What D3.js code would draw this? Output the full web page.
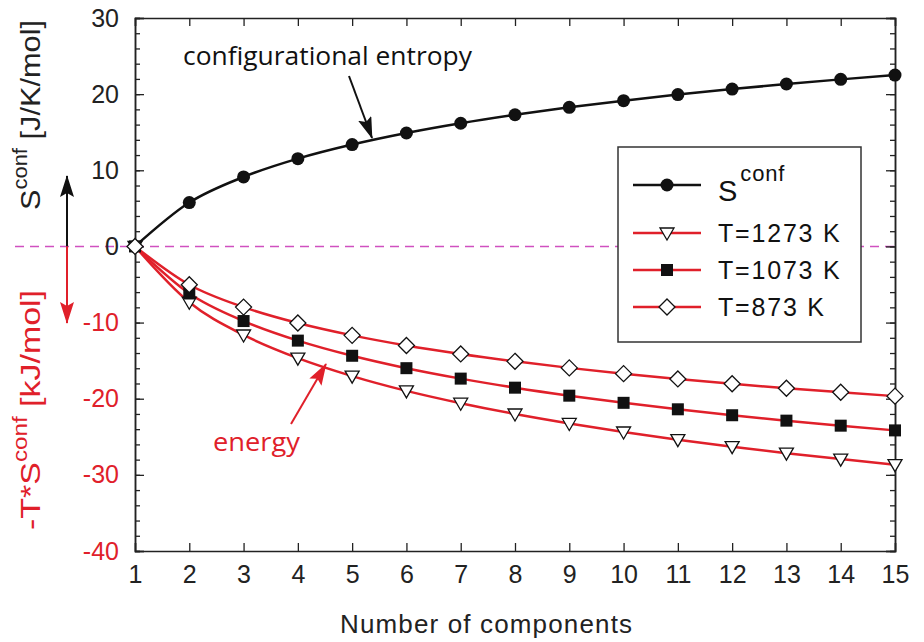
<!DOCTYPE html>
<html><head><meta charset="utf-8">
<script src="https://cdn.jsdelivr.net/npm/d3@7"></script>
<style>body{margin:0;background:#fff}svg{display:block}</style>
</head><body>
<script>
const components = [1,2,3,4,5,6,7,8,9,10,11,12,13,14,15];
const sConf = [0,5.76,9.13,11.53,13.38,14.90,16.18,17.29,18.27,19.14,19.94,20.66,21.33,21.94,22.51];
const t1273 = [0,-7.33,-11.63,-14.67,-17.03,-18.97,-20.59,-22.01,-23.25,-24.37,-25.38,-26.30,-27.15,-27.93,-28.66];
const t1073 = [0,-6.18,-9.80,-12.37,-14.36,-15.99,-17.36,-18.55,-19.60,-20.54,-21.39,-22.17,-22.88,-23.54,-24.16];
const t873  = [0,-5.03,-7.97,-10.06,-11.68,-13.01,-14.12,-15.09,-15.95,-16.71,-17.40,-18.04,-18.62,-19.15,-19.66];
const yTicks = [30,20,10,0,-10,-20,-30,-40];
const legendLabels = ["conf","T=1273 K","T=1073 K","T=873 K"];

const W=924,H=642;
const red="#e0202a";
const svg=d3.select("body").append("svg").attr("width",W).attr("height",H);
const L=135,R=895,T=18,B=551;
const x=d3.scaleLinear().domain([1,15]).range([L,R]);
const y=d3.scaleLinear().domain([-40,30]).range([B,T]);
const font="'Liberation Sans', Arial, sans-serif";
const afont="'Open Sans', 'DejaVu Sans', sans-serif";
const fmt=d=>String(d);

// zero dashed line
svg.append("line").attr("x1",15).attr("x2",R).attr("y1",y(0)).attr("y2",y(0))
  .attr("stroke","#d050c0").attr("stroke-width",1.5).attr("stroke-dasharray","9,6");

// axes with inner ticks
const gB=svg.append("g").attr("transform",`translate(0,${B})`)
  .call(d3.axisBottom(x).tickValues(components).tickSize(-8).tickPadding(14).tickFormat(fmt));
const gT=svg.append("g").attr("transform",`translate(0,${T})`)
  .call(d3.axisTop(x).tickValues(components).tickSize(-8).tickFormat(""));
const minor=d3.range(-40,31,2);
const gL=svg.append("g").attr("transform",`translate(${L},0)`)
  .call(d3.axisLeft(y).tickValues(minor).tickSize(-5).tickFormat(""));
const gL2=svg.append("g").attr("transform",`translate(${L},0)`)
  .call(d3.axisLeft(y).tickValues(yTicks).tickSize(-9).tickPadding(16).tickFormat(fmt));
const gR=svg.append("g").attr("transform",`translate(${R},0)`)
  .call(d3.axisRight(y).tickValues(minor).tickSize(-5).tickFormat(""));
const gR2=svg.append("g").attr("transform",`translate(${R},0)`)
  .call(d3.axisRight(y).tickValues(yTicks).tickSize(-9).tickFormat(""));
[gB,gT,gL,gL2,gR,gR2].forEach(g=>{
  g.select(".domain").attr("stroke","#222").attr("stroke-width",1.5);
  g.selectAll(".tick line").attr("stroke","#222").attr("stroke-width",1.3);
});
gB.selectAll(".tick text").attr("font-family",font).attr("font-size",25).attr("fill","#222");
gL2.selectAll(".tick text").attr("font-family",font).attr("font-size",25)
  .attr("fill",d=>d<0?red:"#222");

// axis titles
svg.append("text").attr("x",486).attr("y",633).attr("text-anchor","middle")
  .attr("font-family",font).attr("font-size",26).attr("fill","#222")
  .attr("textLength",292).attr("lengthAdjust","spacing").text("Number of components");
const t1=svg.append("text").attr("transform","translate(40,115) rotate(-90)").attr("text-anchor","middle")
  .attr("font-family",font).attr("font-size",28).attr("fill","#222")
  .attr("textLength",190).attr("lengthAdjust","spacingAndGlyphs");
t1.append("tspan").text("S");
t1.append("tspan").attr("dy",-13).attr("font-size",20).text("conf");
t1.append("tspan").attr("dy",13).text(" [J/K/mol]");
const t2=svg.append("text").attr("transform","translate(40,410) rotate(-90)").attr("text-anchor","middle")
  .attr("font-family",font).attr("font-size",28).attr("fill",red)
  .attr("textLength",240).attr("lengthAdjust","spacingAndGlyphs");
t2.append("tspan").text("-T*S");
t2.append("tspan").attr("dy",-13).attr("font-size",20).text("conf");
t2.append("tspan").attr("dy",13).text(" [kJ/mol]");

// arrowheads
const defs=svg.append("defs");
function head(id,col){
  defs.append("marker").attr("id",id).attr("viewBox","0 0 22 14").attr("refX",21).attr("refY",7)
   .attr("markerWidth",22).attr("markerHeight",14).attr("markerUnits","userSpaceOnUse").attr("orient","auto")
   .append("path").attr("d","M0,0 L22,7 L0,14 L4,7 Z").attr("fill",col);
}
head("hb","#111"); head("hr",red);
svg.append("line").attr("x1",67).attr("x2",67).attr("y1",y(0)).attr("y2",176)
  .attr("stroke","#111").attr("stroke-width",2).attr("marker-end","url(#hb)");
svg.append("line").attr("x1",67).attr("x2",67).attr("y1",y(0)).attr("y2",323)
  .attr("stroke",red).attr("stroke-width",2).attr("marker-end","url(#hr)");

// lines
const line=d3.line().x((d,i)=>x(components[i])).y(d=>y(d)).curve(d3.curveMonotoneX);
const series=[
  {v:t1273,col:red,shape:"tri"},
  {v:t1073,col:red,shape:"sq"},
  {v:t873,col:red,shape:"dia"}
];
series.forEach(s=>svg.append("path").attr("d",line(s.v)).attr("fill","none").attr("stroke",s.col).attr("stroke-width",2.5));
svg.append("path").attr("d",line(sConf)).attr("fill","none").attr("stroke","#111").attr("stroke-width",2.5);

function drawMarker(g,shape,cx,cy){
  if(shape==="circ") g.append("circle").attr("cx",cx).attr("cy",cy).attr("r",6.5).attr("fill","#111");
  else if(shape==="tri") g.append("path").attr("d",`M${cx-7},${cy-5} L${cx+7},${cy-5} L${cx},${cy+7} Z`)
     .attr("fill","#fff").attr("stroke","#111").attr("stroke-width",1.3);
  else if(shape==="sq") g.append("rect").attr("x",cx-6).attr("y",cy-6).attr("width",12).attr("height",12).attr("fill","#111");
  else if(shape==="dia") g.append("path").attr("d",`M${cx},${cy-8} L${cx+8},${cy} L${cx},${cy+8} L${cx-8},${cy} Z`)
     .attr("fill","#fff").attr("stroke","#111").attr("stroke-width",1.3);
}
const mg=svg.append("g");
sConf.forEach((v,i)=>drawMarker(mg,"circ",x(components[i]),y(v)));
series.forEach(s=>s.v.forEach((v,i)=>drawMarker(mg,s.shape,x(components[i]),y(v))));

// annotations
svg.append("text").attr("x",183).attr("y",65).attr("font-family",afont).attr("font-size",25)
  .attr("fill","#111").attr("textLength",289).attr("lengthAdjust","spacingAndGlyphs").text("configurational entropy");
svg.append("line").attr("x1",349).attr("y1",76).attr("x2",372).attr("y2",138)
  .attr("stroke","#111").attr("stroke-width",2).attr("marker-end","url(#hb)");
svg.append("text").attr("x",213).attr("y",451).attr("font-family",afont).attr("font-size",25)
  .attr("fill",red).attr("textLength",87).attr("lengthAdjust","spacingAndGlyphs").text("energy");
svg.append("line").attr("x1",291).attr("y1",424).attr("x2",326).attr("y2",364)
  .attr("stroke",red).attr("stroke-width",2).attr("marker-end","url(#hr)");

// legend
const lg=svg.append("g");
lg.append("rect").attr("x",618).attr("y",147).attr("width",243).attr("height",195)
  .attr("fill","#fff").attr("stroke","#333").attr("stroke-width",1.5);
const rows=[
  {y:185,col:"#111",shape:"circ"},
  {y:233,col:red,shape:"tri"},
  {y:270,col:red,shape:"sq"},
  {y:307,col:red,shape:"dia"}
];
rows.forEach((r,i)=>{
  lg.append("line").attr("x1",633).attr("x2",701).attr("y1",r.y).attr("y2",r.y).attr("stroke",r.col).attr("stroke-width",2.5);
  drawMarker(lg,r.shape,667,r.y);
  const tx=lg.append("text").attr("x",718).attr("y",r.y+9).attr("font-family",font).attr("font-size",25)
    .attr("letter-spacing",1.8).attr("fill","#111");
  if(i===0){
    tx.attr("y",r.y+16).attr("font-size",29).attr("letter-spacing",0);
    tx.append("tspan").text("S");
    tx.append("tspan").attr("dx",3).attr("dy",-20).attr("font-size",22).attr("letter-spacing",0.8).text(legendLabels[0]);
  }
  else tx.text(legendLabels[i]);
});
</script>
</body></html>
